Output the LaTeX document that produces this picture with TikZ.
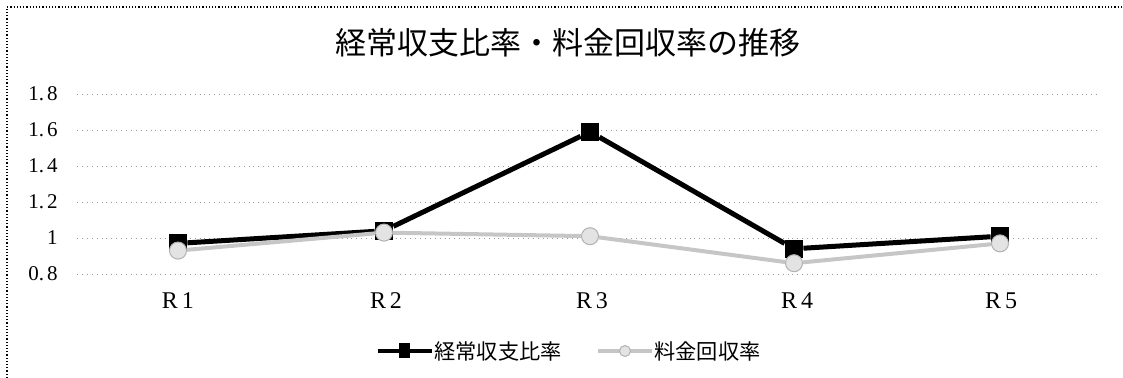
\documentclass[tikz,border=0pt]{standalone}
\usepackage{fontspec}
\setmainfont{Liberation Serif}
\newfontfamily\jpfont{Noto Sans CJK JP}
\usetikzlibrary{positioning}

\tikzset{
	chart title/.style={font=\jpfont\fontsize{15.5}{18}\selectfont, inner sep=0pt},
	grid line/.style={gray!80, dotted, line width=0.45pt},
	tick label/.style={font=\fontsize{10.5}{12}\selectfont, inner sep=0pt, anchor=east},
	cat label/.style={font=\fontsize{12}{14}\selectfont, inner sep=0pt},
	legend text/.style={font=\jpfont\fontsize{10.6}{12}\selectfont, inner sep=0pt},
	keijo line/.style={black, line width=2.5pt},
	ryokin line/.style={gray!45, line width=2pt},
	sqmark/.style={rectangle, fill=black, minimum size=9pt, inner sep=0pt},
	circmark/.style={circle, fill=gray!22, draw=gray!60, line width=0.5pt, minimum size=8.5pt, inner sep=0pt}
}

\begin{document}
\begin{tikzpicture}[x=0.5pt,y=-0.5pt]
	\useasboundingbox (0,0) rectangle (1123,378);
	% frame
	\draw [densely dotted, line width=0.6pt] (7,378) -- (7,7) -- (1123,7);
	
	\node [chart title] (title) at (568,43) {経常収支比率・料金回収率の推移};
	
	% grid lines
	\foreach \y/\txt in {274/0.\kern1.5pt8, 238/1, 202/1.\kern1.5pt2, 166/1.\kern1.5pt4, 130/1.\kern1.5pt6, 94/1.\kern1.5pt8} {
		\draw [grid line] (77,\y) -- (1100,\y);
		\node [tick label] (ylab\y) at (58,\y) {\txt};
	}
	
	% categories
	\node [cat label] (cat1) at (178,301) {R\,1};
	\node [cat label] (cat2) at (386,301) {R\,2};
	\node [cat label] (cat3) at (592,301) {R\,3};
	\node [cat label] (cat4) at (797,301) {R\,4};
	\node [cat label] (cat5) at (1001,301) {R\,5};
	
	\begin{scope}[shift={(0,418)}, y=90pt]
		% keijo shushi hiritsu
		\node [sqmark] (k1) at (178,0.97) {};
		\node [sqmark] (k2) at (384,1.04) {};
		\node [sqmark] (k3) at (590,1.59) {};
		\node [sqmark] (k4) at (794,0.94) {};
		\node [sqmark] (k5) at (1000,1.01) {};
		\draw [keijo line] (k1) -- (k2) -- (k3) -- (k4) -- (k5);
		
		% ryokin kaishuritsu
		\node [circmark] (r1) at (178,0.93) {};
		\node [circmark] (r2) at (384,1.03) {};
		\node [circmark] (r3) at (590,1.01) {};
		\node [circmark] (r4) at (794,0.86) {};
		\node [circmark] (r5) at (1000,0.97) {};
		\draw [ryokin line] (r1) -- (r2) -- (r3) -- (r4) -- (r5);
	\end{scope}
	
	% legend
	\coordinate (legA) at (378,351);
	\coordinate (legAend) at (432,351);
	\draw [keijo line, line width=1.6pt] (legA) -- (legAend);
	\node [sqmark, minimum width=5.5pt, minimum height=7.5pt] (legAmark) at (404,351) {};
	\node [legend text, right=1pt of legAend] (legAtext) {経常収支比率};
	
	\coordinate (legB) at (598,351);
	\coordinate (legBend) at (652,351);
	\draw [ryokin line, line width=1.6pt] (legB) -- (legBend);
	\node [circmark, minimum size=5.5pt] (legBmark) at (625,351) {};
	\node [legend text, right=1pt of legBend] (legBtext) {料金回収率};
\end{tikzpicture}
\end{document}
